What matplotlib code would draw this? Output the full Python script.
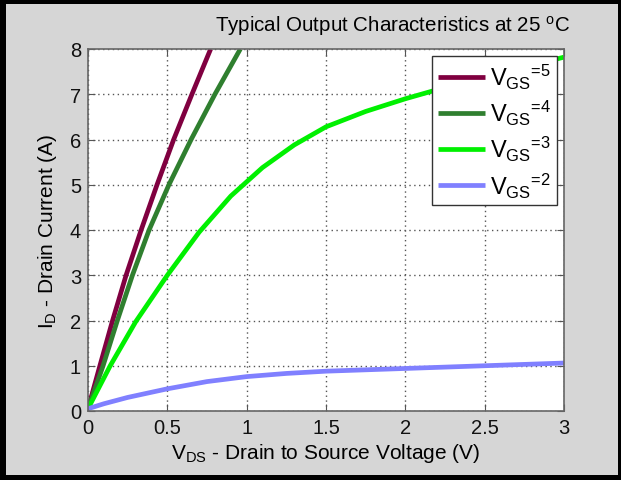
import matplotlib
matplotlib.use("Agg")
import matplotlib.pyplot as plt
from matplotlib.patches import Rectangle

plt.rcParams['font.family'] = ['Liberation Sans', 'DejaVu Sans']
plt.rcParams['mathtext.fontset'] = 'custom'
plt.rcParams['mathtext.rm'] = 'Liberation Sans'
plt.rcParams['mathtext.it'] = 'Liberation Sans'
plt.rcParams['mathtext.bf'] = 'Liberation Sans'

# Data
vds5 = [0, 0.075, 0.155, 0.24, 0.335, 0.435, 0.54, 0.655, 0.773]
id5 = [0.05, 1, 2, 3, 4, 5, 6, 7, 8]
vds4 = [0, 0.095, 0.185, 0.28, 0.385, 0.51, 0.65, 0.8, 0.96]
id4 = [0.05, 1, 2, 3, 4, 5, 6, 7, 8]
vds3 = [0, 0.14, 0.3, 0.5, 0.7, 0.9, 1.1, 1.3, 1.5, 1.75, 2.0, 2.25, 2.5, 2.75, 3.0]
id3 = [0.05, 1.0, 1.97, 3.0, 3.95, 4.75, 5.38, 5.88, 6.28, 6.62, 6.9, 7.15, 7.38, 7.6, 7.82]
vds2 = [0, 0.1, 0.25, 0.5, 0.75, 1.0, 1.25, 1.5, 1.75, 2.0, 2.5, 3.0]
id2 = [0.05, 0.16, 0.30, 0.49, 0.65, 0.76, 0.83, 0.88, 0.91, 0.94, 1.0, 1.06]

labels = [r'V$_{\mathrm{GS}}{}^{\text{=5}}$', r'V$_{\mathrm{GS}}{}^{\text{=4}}$',
          r'V$_{\mathrm{GS}}{}^{\text{=3}}$', r'V$_{\mathrm{GS}}{}^{\text{=2}}$']
colors = ['#800040', '#2f7f2f', '#00f000', '#8080ff']
xticks = [0, 0.5, 1, 1.5, 2, 2.5, 3]
xticklabels = ['0', '0.5', '1', '1.5', '2', '2.5', '3']
yticks = [0, 1, 2, 3, 4, 5, 6, 7, 8]

W, H = 621, 481
fig = plt.figure(figsize=(W / 100, H / 100), dpi=100, facecolor='black')
fig.patches.append(Rectangle((6 / W, 5 / H), (W - 9) / W, (H - 10) / H,
                             transform=fig.transFigure, facecolor='#d6d6d6',
                             edgecolor='none', zorder=-5))

ax = fig.add_axes([88 / W, (H - 412) / H, (564 - 88) / W, (412 - 50) / H])
ax.set_zorder(2)
ax.set_facecolor('white')

for xs, ys, c, lab in zip([vds5, vds4, vds3, vds2], [id5, id4, id3, id2], colors, labels):
    ax.plot(xs, ys, color=c, lw=3.4, label=lab, solid_capstyle='butt', solid_joinstyle='round')

ax.set_xlim(0, 3)
ax.set_ylim(0, 8)
ax.set_xticks(xticks)
ax.set_xticklabels(xticklabels)
ax.set_yticks(yticks)
ax.grid(True, linestyle=(0, (1, 2.5)), color='#555555', linewidth=1.0)
ax.tick_params(direction='in', top=True, right=True, length=5, width=0.8,
               labelsize=14.5, labelcolor='#111111', color='#555555', pad=5)
for s in ax.spines.values():
    s.set_color('#666666')
    s.set_linewidth(1.2)

ax.set_xlabel(r'V$_{\mathrm{DS}}$ - Drain to Source Voltage (V)', fontsize=15, labelpad=3)
ax.set_ylabel(r'I$_{\mathrm{D}}$ - Drain Current (A)', fontsize=15, labelpad=8)

fig.text(570 / W, 1 - 26 / H, r'Typical Output Characteristics at 25 $^{\mathrm{o}}$C',
         ha='right', va='center', fontsize=14.8, zorder=3)

leg = ax.legend(loc='upper right', bbox_to_anchor=(557 / W, 1 - 57 / H),
                bbox_transform=fig.transFigure, fontsize=17, frameon=True,
                fancybox=False, edgecolor='#333333', framealpha=1,
                handlelength=2.0, handletextpad=0.2, labelspacing=0.3,
                borderpad=0.25, borderaxespad=0)
leg.get_frame().set_linewidth(1.0)

fig.savefig('out.png', dpi=100, facecolor=fig.get_facecolor())
